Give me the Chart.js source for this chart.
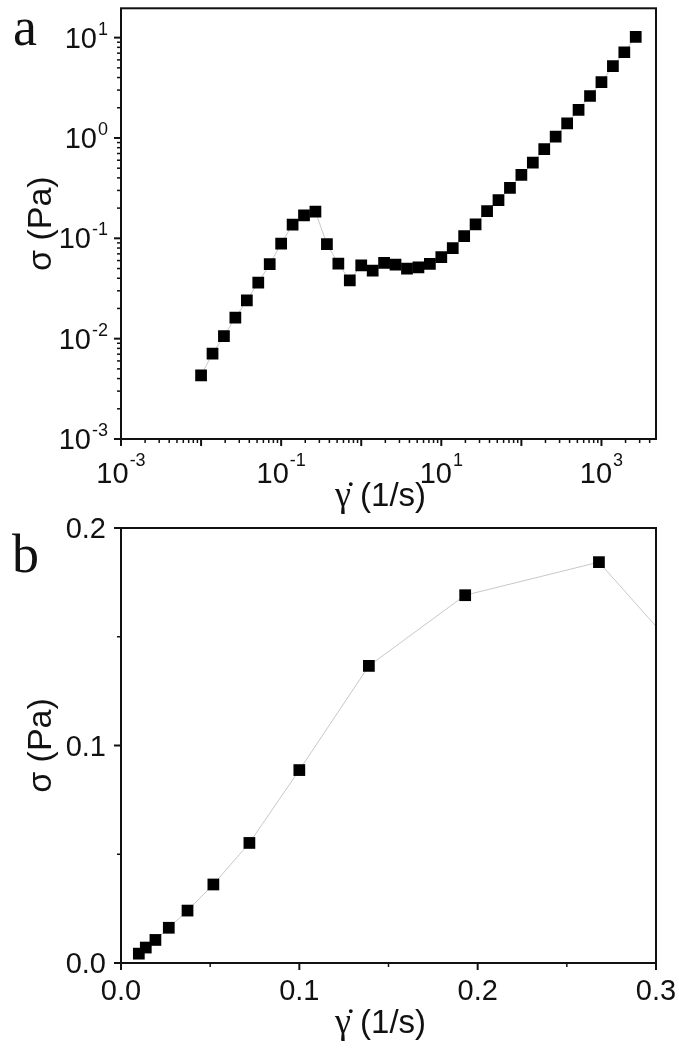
<!DOCTYPE html>
<html><head><meta charset="utf-8">
<script src="https://cdn.jsdelivr.net/npm/chart.js@4.4.1/dist/chart.umd.min.js"></script>
<style>
html,body{margin:0;padding:0;background:#fff;}
body{width:679px;height:1050px;position:relative;overflow:hidden;}
#ca{position:absolute;left:0;top:0;}
#cb{position:absolute;left:0;top:510px;}
</style></head><body>
<canvas id="ca" width="679" height="520"></canvas>
<canvas id="cb" width="679" height="540"></canvas>
<script>
// ---- data ----
const shearRate = [0.01, 0.0139, 0.0193, 0.0268, 0.0373, 0.0518, 0.072, 0.1, 0.139, 0.193, 0.268,
  0.373, 0.518, 0.72, 1.0, 1.39, 1.93, 2.68, 3.73, 5.18, 7.2, 10, 13.9, 19.3, 26.8, 37.3, 51.8, 72,
  100, 139, 193, 268, 373, 518, 720, 1000, 1390, 1930, 2680];
const stress = [0.0043, 0.0071, 0.0106, 0.0162, 0.0241, 0.0361, 0.0552, 0.0887, 0.1366, 0.1691, 0.1843,
  0.0875, 0.056, 0.038, 0.0538, 0.0476, 0.0568, 0.0547, 0.050, 0.0514, 0.0555, 0.0650, 0.080, 0.105,
  0.138, 0.187, 0.240, 0.318, 0.428, 0.567, 0.775, 1.03, 1.40, 1.91, 2.62, 3.61, 5.2, 7.15, 10.2];

// tick labels
const logXLabelExps = [-3, -1, 1, 3];
const logYLabelExps = [-3, -2, -1, 0, 1];
const linXTicks = [0, 0.1, 0.2, 0.3];
const linXLabels = ['0.0', '0.1', '0.2', '0.3'];
const linYTicks = [0, 0.1, 0.2];
const linYLabels = ['0.0', '0.1', '0.2'];

const xTitleSymbol = 'γ\u0307';
const xTitleUnit = ' (1/s)';
const yTitle = 'σ (Pa)';

const INK = '#111';
const SANS = '"Liberation Sans", Arial, "DejaVu Sans", sans-serif';
const SERIF = '"Liberation Serif", "Times New Roman", "DejaVu Serif", serif';
const TICK_FONT = '29px ' + SANS;
const EXP_FONT = '18px ' + SANS;

const points = shearRate.map((x, i) => ({x: x, y: stress[i]}));

function seg(ctx, x1, y1, x2, y2, w) {
  ctx.lineWidth = w;
  ctx.beginPath(); ctx.moveTo(x1, y1); ctx.lineTo(x2, y2); ctx.stroke();
}
function frame(ctx, a) {
  ctx.lineWidth = 2;
  ctx.strokeStyle = INK;
  ctx.strokeRect(a.left, a.top, a.right - a.left, a.bottom - a.top);
}
function pow10Label(ctx, exp, xRight, xCenter, baseY, expY) {
  ctx.font = TICK_FONT;
  const bw = ctx.measureText('10').width;
  const et = exp < 0 ? '-' + Math.abs(exp) : String(exp);
  ctx.font = EXP_FONT;
  const ew = ctx.measureText(et).width;
  let x0 = xRight !== null ? xRight - bw - ew - 1 : xCenter - (bw + ew + 1) / 2;
  ctx.textAlign = 'left';
  ctx.textBaseline = 'alphabetic';
  ctx.font = TICK_FONT;
  ctx.fillText('10', x0, baseY);
  ctx.font = EXP_FONT;
  ctx.fillText(et, x0 + bw + 1, expY);
}
function panelLetter(ctx, t, x, y) {
  ctx.font = '54px ' + SERIF;
  ctx.textAlign = 'left';
  ctx.textBaseline = 'alphabetic';
  ctx.fillText(t, x, y);
}
function xAxisTitle(ctx, cx, baseY) {
  ctx.textAlign = 'left';
  ctx.textBaseline = 'alphabetic';
  ctx.font = '36px ' + SERIF;
  const w1 = ctx.measureText(xTitleSymbol).width;
  ctx.font = '33px ' + SANS;
  const w2 = ctx.measureText(xTitleUnit).width;
  const x0 = cx - (w1 + w2) / 2;
  ctx.font = '36px ' + SERIF;
  ctx.fillText(xTitleSymbol, x0, baseY);
  ctx.font = '33px ' + SANS;
  ctx.fillText(xTitleUnit, x0 + w1, baseY);
}

const logDecor = {
  id: 'logDecor',
  afterDraw(chart) {
    const {ctx, chartArea: a, scales: {x, y}} = chart;
    ctx.save();
    ctx.strokeStyle = INK; ctx.fillStyle = INK;
    for (let k = -3; k <= 3; k++) {
      for (let m = 1; m <= 9; m++) {
        const v = m * Math.pow(10, k);
        if (v >= x.min && v <= x.max * 1.0001) {
          const px = x.getPixelForValue(v);
          seg(ctx, px, a.bottom, px, a.bottom + (m === 1 ? 7 : 4), m === 1 ? 2 : 1.5);
        }
        if (v >= y.min && v <= y.max * 1.0001) {
          const py = y.getPixelForValue(v);
          seg(ctx, a.left, py, a.left - (m === 1 ? 7 : 4), py, m === 1 ? 2 : 1.5);
        }
      }
    }
    frame(ctx, a);
    logYLabelExps.forEach(e => {
      const py = y.getPixelForValue(Math.pow(10, e));
      pow10Label(ctx, e, a.left - 13, null, py + 10, py - 3);
    });
    logXLabelExps.forEach(e => {
      const px = x.getPixelForValue(Math.pow(10, e));
      pow10Label(ctx, e, null, px, a.bottom + 44, a.bottom + 27);
    });
    xAxisTitle(ctx, (a.left + a.right) / 2 - 8, a.bottom + 67);
    panelLetter(ctx, 'a', 13, 45);
    ctx.restore();
  }
};

const linDecor = {
  id: 'linDecor',
  afterDraw(chart) {
    const {ctx, chartArea: a, scales: {x, y}} = chart;
    ctx.save();
    ctx.strokeStyle = INK; ctx.fillStyle = INK;
    for (let i = 0; i <= 6; i++) {
      const v = i * 0.05;
      const major = i % 2 === 0;
      const px = x.getPixelForValue(v);
      seg(ctx, px, a.bottom, px, a.bottom + (major ? 7 : 4), major ? 2 : 1.5);
      if (v <= y.max + 1e-9) {
        const py = y.getPixelForValue(v);
        seg(ctx, a.left, py, a.left - (major ? 7 : 4), py, major ? 2 : 1.5);
      }
    }
    frame(ctx, a);
    ctx.font = TICK_FONT;
    ctx.textBaseline = 'alphabetic';
    ctx.textAlign = 'right';
    linYTicks.forEach((v, i) => {
      ctx.fillText(linYLabels[i], a.left - 15, y.getPixelForValue(v) + 10);
    });
    ctx.textAlign = 'center';
    linXTicks.forEach((v, i) => {
      ctx.fillText(linXLabels[i], x.getPixelForValue(v), a.bottom + 37);
    });
    xAxisTitle(ctx, (a.left + a.right) / 2 - 8, a.bottom + 70);
    panelLetter(ctx, 'b', 12, 62);
    ctx.restore();
  }
};

function dataset() {
  return {
    data: points,
    showLine: true,
    borderColor: '#c8c8c8',
    borderWidth: 1,
    pointStyle: 'rect',
    pointRadius: 8.3,
    pointHoverRadius: 8.3,
    pointBackgroundColor: '#000',
    pointBorderWidth: 0,
    tension: 0
  };
}
function yTitleOpt() {
  return {display: true, text: yTitle, color: INK, font: {family: SANS, size: 34}, padding: {top: 21, bottom: 0}};
}

Chart.defaults.animation = false;

new Chart(document.getElementById('ca'), {
  type: 'line',
  data: {datasets: [dataset()]},
  options: {
    responsive: false, devicePixelRatio: 1, animation: false,
    layout: {padding: {top: 5, right: 23, bottom: 0, left: 0}},
    plugins: {legend: {display: false}, tooltip: {enabled: false}},
    scales: {
      x: {
        type: 'logarithmic', min: 0.001, max: 4800,
        grid: {display: false}, border: {display: false}, ticks: {display: false},
        title: {display: false},
        afterFit(s) { s.height = 81; }
      },
      y: {
        type: 'logarithmic', min: 0.001, max: 19.6,
        grid: {display: false}, border: {display: false}, ticks: {display: false},
        title: yTitleOpt(),
        afterFit(s) { s.width = 121; }
      }
    }
  },
  plugins: [logDecor]
});

new Chart(document.getElementById('cb'), {
  type: 'line',
  data: {datasets: [dataset()]},
  options: {
    responsive: false, devicePixelRatio: 1, animation: false,
    layout: {padding: {top: 18, right: 23, bottom: 0, left: 0}},
    plugins: {legend: {display: false}, tooltip: {enabled: false}},
    scales: {
      x: {
        type: 'linear', min: 0, max: 0.3,
        grid: {display: false}, border: {display: false}, ticks: {display: false},
        title: {display: false},
        afterFit(s) { s.height = 87; }
      },
      y: {
        type: 'linear', min: 0, max: 0.2,
        grid: {display: false}, border: {display: false}, ticks: {display: false},
        title: yTitleOpt(),
        afterFit(s) { s.width = 121; }
      }
    }
  },
  plugins: [linDecor]
});
</script>
</body></html>
